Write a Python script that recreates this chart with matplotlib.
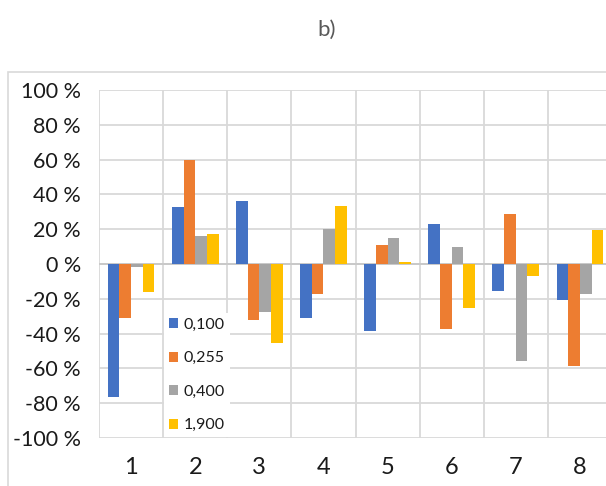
import matplotlib
matplotlib.use("Agg")
import matplotlib.pyplot as plt
from matplotlib.patches import Rectangle
import numpy as np

plt.rcParams['font.family'] = ['Lato', 'DejaVu Sans']

categories = ["1", "2", "3", "4", "5", "6", "7", "8"]
series_names = ["0,100", "0,255", "0,400", "1,900"]
s_0100 = [-76.4, 32.5, 36.0, -31.0, -38.7, 22.8, -15.7, -20.9]
s_0255 = [-30.8, 59.8, -32.0, -17.0, 10.9, -37.4, 28.9, -58.8]
s_0400 = [-1.5, 16.3, -27.8, 20.1, 15.1, 9.8, -55.7, -17.2]
s_1900 = [-16.3, 17.4, -45.2, 33.5, 1.0, -25.1, -6.9, 19.5]
ytick_values = [-100, -80, -60, -40, -20, 0, 20, 40, 60, 80, 100]
ytick_labels = ["-100 %", "-80 %", "-60 %", "-40 %", "-20 %", "0 %",
                "20 %", "40 %", "60 %", "80 %", "100 %"]
title = "b)"

colors = ["#4472C4", "#ED7D31", "#A5A5A5", "#FFC000"]
series = [s_0100, s_0255, s_0400, s_1900]

W, H = 606, 486
fig = plt.figure(figsize=(W / 100, H / 100), dpi=100)
fig.patch.set_facecolor("white")

# outer chart frame
fig.patches.append(Rectangle((8 / W, -0.1), 1.2, (486 - 72) / H + 0.1,
                             transform=fig.transFigure, facecolor="none",
                             edgecolor="#d9d9d9", linewidth=1.2))

left, right, top, bottom = 99, 612, 90, 438
ax = fig.add_axes([left / W, (H - bottom) / H, (right - left) / W, (bottom - top) / H])
ax.set_facecolor("none")

x = np.arange(len(categories))
w = 1 / 5.5
for i, (vals, c, name) in enumerate(zip(series, colors, series_names)):
    ax.bar(x + (i - 1.5) * w, vals, width=w, color=c, label=name, zorder=3)

ax.set_xlim(-0.5, len(categories) - 0.5)
ax.set_ylim(-100, 100)
ax.set_yticks(ytick_values)
ax.set_yticklabels(ytick_labels, fontsize=15.5, color="#1a1a1a")
ax.set_xticks(x)
ax.set_xticklabels(categories, fontsize=17, color="#1a1a1a")
ax.set_xticks(np.arange(-0.5, len(categories) + 0.5, 1), minor=True)
ax.tick_params(axis="both", which="both", length=0)
ax.tick_params(axis="x", pad=14)
ax.tick_params(axis="y", pad=13)
ax.grid(True, axis="y", which="major", color="#d9d9d9", linewidth=1.3, zorder=0)
ax.grid(True, axis="x", which="minor", color="#d9d9d9", linewidth=1.3, zorder=0)
ax.axhline(0, color="#c8c8c8", linewidth=1.3, zorder=2)
for s in ax.spines.values():
    s.set_visible(False)

leg = ax.legend(loc="upper left", bbox_to_anchor=(164 / W, (H - 313) / H),
                bbox_transform=fig.transFigure, frameon=True, fancybox=False,
                edgecolor="none", facecolor="white", framealpha=1,
                fontsize=11.5, handlelength=0.6, handleheight=0.6,
                handletextpad=0.35, labelspacing=1.22, borderpad=0.3,
                borderaxespad=0)
for t in leg.get_texts():
    t.set_color("#1a1a1a")

fig.text(327 / W, (H - 30) / H, title, ha="center", va="center",
         fontsize=16, color="#595959")

fig.savefig("out.png", dpi=100)
